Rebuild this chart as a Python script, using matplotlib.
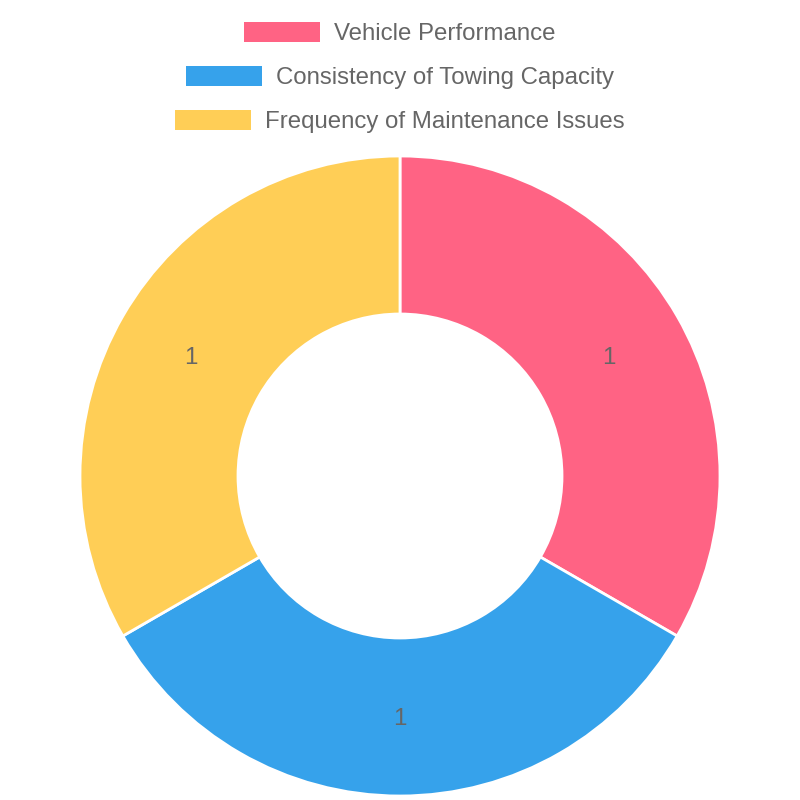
import matplotlib
matplotlib.use("Agg")
import matplotlib.pyplot as plt
from matplotlib.patches import Rectangle
import numpy as np

labels = ["Vehicle Performance", "Consistency of Towing Capacity", "Frequency of Maintenance Issues"]
values = [1, 1, 1]
colors = ["#FF6384", "#36A2EB", "#FFCE56"]

plt.rcParams['font.family'] = ['Liberation Sans', 'DejaVu Sans']
text_color = "#666666"
font_px = 24
font_pt = font_px * 72 / 100

fig = plt.figure(figsize=(8, 8), dpi=100)
ax = fig.add_axes([0, 0, 1, 1])

# doughnut (y axis flipped, so go counterclockwise to appear clockwise)
outer_r = 320
inner_r = 162
wedges, _ = ax.pie(values, colors=colors, radius=outer_r, center=(400, 476),
                   startangle=-90, counterclock=True, frame=True,
                   wedgeprops=dict(width=outer_r - inner_r, edgecolor='white', linewidth=2))
ax.set_xlim(0, 800)
ax.set_ylim(800, 0)
ax.set_aspect('equal')
ax.axis('off')

mid_r = (outer_r + inner_r) / 2
for w, v in zip(wedges, values):
    ang = np.deg2rad((w.theta1 + w.theta2) / 2)
    x = w.center[0] + mid_r * np.cos(ang)
    y = w.center[1] + mid_r * np.sin(ang) + 2
    ax.text(x, y, str(v), ha='center', va='center', fontsize=font_pt, color=text_color)

# legend, one centred row per entry like chart.js
fig.canvas.draw()
renderer = fig.canvas.get_renderer()
box_w, box_h, gap = 76, 20, 14
row_y = [32, 76, 120]
for lab, col, y in zip(labels, colors, row_y):
    t = ax.text(0, y + 2, lab, ha='left', va='center', fontsize=font_pt, color=text_color)
    tw = t.get_window_extent(renderer).width
    total = box_w + gap + tw
    x0 = 400 - total / 2
    ax.add_patch(Rectangle((x0, y - box_h / 2), box_w, box_h, facecolor=col, edgecolor='none'))
    t.set_x(x0 + box_w + gap)

fig.savefig("out.png", dpi=100)
